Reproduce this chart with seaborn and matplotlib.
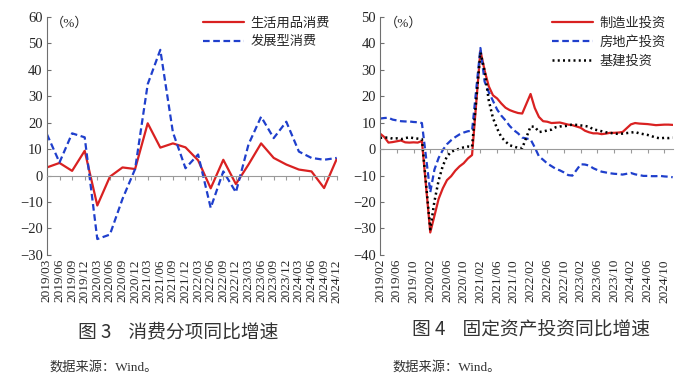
import numpy as np
import pandas as pd
import seaborn as sns
import matplotlib.pyplot as plt

# ---- data: 消费分项 (quarterly) ----
quarters = ['2019/03', '2019/06', '2019/09', '2019/12', '2020/03', '2020/06',
            '2020/09', '2020/12', '2021/03', '2021/06', '2021/09', '2021/12',
            '2022/03', '2022/06', '2022/09', '2022/12', '2023/03', '2023/06',
            '2023/09', '2023/12', '2024/03', '2024/06', '2024/09', '2024/12']
daily_goods = [3.1, 4.8, 1.8, 9.4, -11.3, -0.4, 3.1, 2.5, 19.8, 10.6, 12.2, 10.7,
               5.8, -4.8, 6.0, -3.2, 4.2, 12.2, 6.7, 4.2, 2.3, 1.6, -4.7, 6.3]
dev_consumption = [15.7, 5.0, 16.0, 14.5, -24.0, -22.3, -8.8, 2.5, 34.6, 47.6, 16.4, 2.8,
                   8.0, -12.2, 1.6, -6.3, 11.8, 22.3, 14.2, 20.4, 9.1, 6.7, 6.0, 6.7]

# ---- data: 固定资产投资 (monthly, Jan-Feb combined) ----
inv_months = [f'{y}/{m:02d}' for y in range(2019, 2025) for m in range(2, 13)]
manufacturing = [5.9, 4.6, 2.5, 2.7, 3.0, 3.3, 2.6, 2.5, 2.6, 2.5, 3.1,
                 -31.5, -25.2, -18.8, -14.8, -11.7, -10.2, -8.1, -6.5, -5.3, -3.5, -2.2,
                 37.3, 29.8, 23.8, 20.4, 19.2, 17.3, 15.7, 14.8, 14.2, 13.7, 13.5,
                 20.9, 15.6, 12.2, 10.6, 10.4, 9.9, 10.0, 10.1, 9.7, 9.3, 9.1,
                 8.1, 7.0, 6.4, 6.0, 6.0, 5.7, 5.9, 6.2, 6.2, 6.3, 6.5,
                 9.4, 9.9, 9.7, 9.6, 9.5, 9.3, 9.1, 9.2, 9.3, 9.3, 9.2]
real_estate = [11.6, 11.8, 11.9, 11.2, 10.9, 10.6, 10.5, 10.5, 10.3, 10.2, 9.9,
               -16.3, -7.7, -3.3, -0.3, 1.9, 3.4, 4.6, 5.6, 6.3, 6.8, 7.0,
               38.3, 25.6, 21.6, 18.3, 15.0, 12.7, 10.9, 8.8, 7.2, 6.0, 4.4,
               3.7, 0.7, -2.7, -4.0, -5.4, -6.4, -7.4, -8.0, -8.8, -9.8, -10.0,
               -5.7, -5.8, -6.2, -7.2, -7.9, -8.5, -8.8, -9.1, -9.3, -9.4, -9.6,
               -9.0, -9.5, -9.8, -10.1, -10.1, -10.2, -10.2, -10.1, -10.3, -10.4, -10.6]
infrastructure = [4.3, 4.4, 4.4, 4.0, 4.1, 3.8, 4.2, 4.5, 4.2, 4.0, 3.8,
                  -30.3, -19.7, -11.8, -6.3, -2.7, -1.0, -0.3, 0.2, 0.7, 1.0, 0.9,
                  36.6, 29.7, 18.4, 11.8, 7.8, 4.6, 2.9, 1.5, 1.0, 0.5, 0.4,
                  8.6, 8.5, 6.5, 6.7, 7.1, 7.4, 8.3, 8.6, 8.7, 8.9, 9.4,
                  9.0, 8.8, 8.5, 7.5, 7.2, 6.8, 6.4, 6.2, 5.9, 5.8, 5.9,
                  6.3, 6.5, 6.0, 5.7, 5.4, 4.9, 4.4, 4.1, 4.3, 4.2, 4.4]
inv_ticks = ['2019/02', '2019/06', '2019/10', '2020/02', '2020/06', '2020/10',
             '2021/02', '2021/06', '2021/10', '2022/02', '2022/06', '2022/10',
             '2023/02', '2023/06', '2023/10', '2024/02', '2024/06', '2024/10']

RED = '#D92121'
BLUE = '#1F3FCC'
CJK = ['Noto Sans CJK SC', 'DejaVu Sans']
SERIF = ['Liberation Serif', 'Noto Sans CJK SC']


def month_pos(label):
    y, m = label.split('/')
    return (int(y) - 2019) * 12 + int(m) - 2


sns.set_style("ticks")
plt.rcParams['font.family'] = SERIF
plt.rcParams['axes.edgecolor'] = '#7f7f7f'

fig = plt.figure(figsize=(7, 3.88), dpi=100)
ax1 = fig.add_axes([0.067, 0.343, 0.414, 0.613])
ax2 = fig.add_axes([0.543, 0.343, 0.418, 0.613])

# left chart
q_pos = np.arange(len(quarters))
sns.lineplot(x=q_pos, y=daily_goods, ax=ax1, color=RED, lw=1.6, label='生活用品消费')
sns.lineplot(x=q_pos, y=dev_consumption, ax=ax1, color=BLUE, lw=1.6,
             linestyle=(0, (3, 1.6)), label='发展型消费')
ax1.set_xlim(0, len(quarters) - 1)
ax1.set_ylim(-30, 60)
ax1.set_yticks(range(-30, 61, 10))
ax1.set_xticks(q_pos)

# right chart
m_pos = [month_pos(s) for s in inv_months]
sns.lineplot(x=m_pos, y=manufacturing, ax=ax2, color=RED, lw=1.6, label='制造业投资')
sns.lineplot(x=m_pos, y=real_estate, ax=ax2, color=BLUE, lw=1.6,
             linestyle=(0, (3, 1.6)), label='房地产投资')
sns.lineplot(x=m_pos, y=infrastructure, ax=ax2, color='black', lw=1.8,
             linestyle=(0, (0.8, 1.3)), label='基建投资')
ax2.set_xlim(0, 70)
ax2.set_ylim(-40, 50)
ax2.set_yticks(range(-40, 51, 10))
t_pos = [month_pos(s) for s in inv_ticks]
ax2.set_xticks(t_pos)

for ax, pos, labels in [(ax1, q_pos, quarters), (ax2, t_pos, inv_ticks)]:
    ax.set_xlabel('')
    ax.set_ylabel('')
    ax.spines['top'].set_visible(False)
    ax.spines['right'].set_visible(False)
    ax.spines['bottom'].set_position(('data', 0))
    ax.spines['bottom'].set_color('#9a9a9a')
    ax.spines['left'].set_color('#6f6f6f')
    ax.tick_params(axis='x', direction='out', length=3, color='#9a9a9a', labelbottom=False)
    ax.tick_params(axis='y', direction='in', length=3, color='#6f6f6f', labelsize=10.5, pad=3)
    sec = ax.secondary_xaxis('bottom')
    sec.set_xticks(pos, labels, rotation=90, fontsize=9.5)
    sec.tick_params(length=0, pad=3)
    sec.spines['bottom'].set_visible(False)
    ax.text(0.015, 0.975, '（%）', transform=ax.transAxes, ha='left', va='center',
            fontsize=9.5, family=SERIF)
    ax.legend(loc='upper right', frameon=False, prop={'family': CJK, 'size': 9.5},
              handlelength=3.1, handletextpad=0.5, labelspacing=0.45,
              borderaxespad=0.1, bbox_to_anchor=(1.0, 1.03))

# captions
fig.text(0.255, 0.145, '图 3    消费分项同比增速', ha='center', va='center',
         fontsize=13.5, family=CJK, color='#333333')
fig.text(0.758, 0.148, '图 4    固定资产投资同比增速', ha='center', va='center',
         fontsize=13.5, family=CJK, color='#333333')
fig.text(0.071, 0.054, '数据来源：Wind。', ha='left', va='center',
         fontsize=9.5, family=SERIF, color='#333333')
fig.text(0.56, 0.054, '数据来源：Wind。', ha='left', va='center',
         fontsize=9.5, family=SERIF, color='#333333')

fig.savefig('out.png', dpi=100)
